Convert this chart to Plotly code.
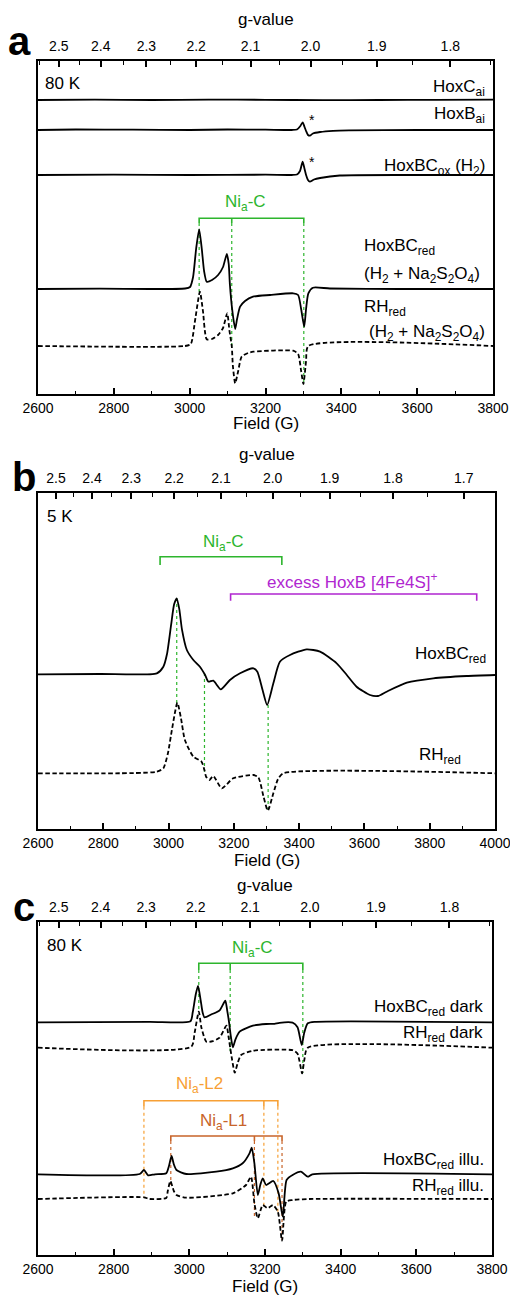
import plotly.graph_objects as go

MW_FREQ_GHZ = 9.29
G_CONST = 714.477  # field (G) = G_CONST * freq(GHz) / g

FONT = "Liberation Sans, Arial, sans-serif"
GREEN = "#2db52d"
PURPLE = "#b026d0"
ORANGE_L2 = "#f7a035"
ORANGE_L1 = "#c8642a"

# ---------------- Panel a (80 K) ----------------
a_hoxc_field = [2600, 2750, 2900, 3050, 3200, 3350, 3500, 3650, 3800]
a_hoxc_int = [0, 0.3, 0, 0.4, 0.2, -0.2, 0, 0.2, 0.3]
a_hoxc_offset = 294

a_hoxb_field = [2600, 2700, 2850, 3000, 3100, 3200, 3270, 3283, 3292, 3298, 3303, 3307, 3312, 3317, 3325, 3344, 3378, 3420, 3600, 3800]
a_hoxb_int = [0, 0.5, 0.3, 0, 0.5, 0.3, 0, 0.5, 4, 7.7, 3, -1, -5, -5.7, -3.5, -2, -0.8, -0.3, 0, 0]
a_hoxb_offset = 264

a_hoxbcox_field = [2600, 2800, 3000, 3200, 3270, 3283, 3291, 3298, 3303, 3307, 3312, 3317, 3328, 3344, 3396, 3600, 3800]
a_hoxbcox_int = [0, 0.3, 0, 0.3, 0, 0.5, 4, 13.3, 6, 0, -5, -6.7, -4.5, -3, -0.5, 0, 0]
a_hoxbcox_offset = 219

a_bcred_field = [2600, 2763, 2895, 2988, 3001, 3009, 3017, 3025, 3032, 3038, 3045, 3059, 3075, 3088, 3098, 3103, 3106, 3112, 3120, 3125, 3133, 3146, 3167, 3212, 3273, 3286, 3294, 3302, 3307, 3313, 3325, 3370, 3555, 3800]
a_bcred_int = [0, 0.3, 0, 0.5, 2, 12, 40, 59.7, 40, 18, 7.3, 9, 14, 22, 35, 25, 5, -20, -40, -30, -17.7, -12, -7.7, -6, -4.3, -6, -20, -37.7, -20, -4.3, 1.3, 0.5, 0, 0]
a_bcred_offset = 105

a_rhred_field = [2600, 2988, 3003, 3014, 3027, 3035, 3045, 3059, 3075, 3088, 3099, 3105, 3111, 3114, 3120, 3128, 3137, 3154, 3168, 3273, 3286, 3294, 3300, 3307, 3313, 3800]
a_rhred_int = [0, 0, 2, 25, 54.3, 35, 6.7, 7, 11, 18, 32.7, 15, 0, -20, -37.3, -25, -10.7, -7, -5.7, -4.7, -8, -25, -38, -15, 0, 0]
a_rhred_offset = 48

a_nic_fields = [3025, 3111, 3301]
a_nic_dot_ends = [100, 47, 10]

# ---------------- Panel b (5 K) ----------------
b_bcred_field = [2600, 2790, 2964, 2984, 2995, 3008, 3017, 3025, 3033, 3041, 3056, 3076, 3096, 3112, 3122, 3137, 3160, 3188, 3219, 3260, 3272, 3288, 3302, 3321, 3341, 3372, 3423, 3464, 3515, 3546, 3576, 3617, 3642, 3668, 3730, 3811, 3913, 4000]
b_bcred_int = [0, 0.3, 1, 7.6, 20, 50, 70, 76, 65, 45, 24.3, 14.3, 7.6, -0.7, -7.4, -6.4, -15, -5.7, 1, 6, 2.6, -15.7, -30.7, -9, 12.6, 19.3, 25, 22.6, 11, -0.7, -12.4, -20.7, -21.7, -17.4, -8.4, -4, -1.7, -0.7]
b_bcred_offset = 154.7

b_rhred_field = [2600, 2964, 2984, 2998, 3011, 3027, 3038, 3050, 3076, 3101, 3110, 3115, 3125, 3137, 3163, 3198, 3260, 3275, 3291, 3304, 3321, 3335, 3351, 4000]
b_rhred_int = [0, 1.6, 5, 20, 45, 70.6, 55, 33.3, 16.6, 11.6, 3, -3.4, -6.7, -2.7, -15, -5, -1.7, -4, -23.4, -37.4, -20, -6, 0, 0]
b_rhred_offset = 55.7

b_nic_fields = [3025, 3110, 3305]
b_nic_dot_tops = [231, 156, 124]
b_nic_dot_ends = [125.7, 57.3, 19]
b_nic_bracket = [2974, 3347]
b_fes_bracket = [3190, 3944]

# ---------------- Panel c (80 K, dark / illuminated) ----------------
c_bcdark_field = [2600, 2895, 3003, 3009, 3017, 3023, 3030, 3035, 3040, 3059, 3080, 3095, 3100, 3105, 3109, 3115, 3122, 3133, 3168, 3203, 3225, 3238, 3273, 3286, 3297, 3304, 3313, 3331, 3800]
c_bcdark_int = [0, 0.5, 1, 10, 28, 36.3, 22, 10, 5, 8, 12, 21.6, 12, 0, -12, -25, -17, -9.4, -3.4, -1.7, -1.5, -0.5, -0.4, -5, -22.7, -10, -1, 0.5, 0]
c_bcdark_offset = 232.7

c_rhdark_field = [2600, 3005, 3014, 3025, 3032, 3045, 3062, 3080, 3098, 3104, 3108, 3113, 3120, 3128, 3137, 3168, 3273, 3286, 3298, 3304, 3313, 3800]
c_rhdark_int = [0, 1, 15, 36, 20, 6, 6.5, 10, 22, 10, 0, -12, -25, -15, -7.3, -3, -2.5, -6, -25.6, -12, 0, 0]
c_rhdark_offset = 207.3

c_bcillu_field = [2600, 2869, 2880, 2891, 2909, 2939, 2946, 2953, 2959, 2966, 2992, 3071, 3115, 3141, 3159, 3165, 3172, 3181, 3188, 3194, 3203, 3222, 3236, 3247, 3257, 3273, 3295, 3313, 3325, 3800]
c_bcillu_int = [0, 0.3, 4.3, -1, 0, 1, 8, 18.3, 10, 4.3, 0.3, 2.6, 6, 11, 21, 26.6, 11, -20.7, -10, -4, -10.7, -6.7, -19, -42.4, -5.7, -0.7, 2.6, -2.4, 0, 0]
c_bcillu_offset = 80.7

c_rhillu_field = [2600, 2880, 2895, 2939, 2943, 2950, 2959, 2966, 2992, 3115, 3150, 3163, 3172, 3181, 3194, 3207, 3221, 3234, 3245, 3256, 3273, 3317, 3800]
c_rhillu_int = [0, 1.7, 0, 1, 8, 18, 8, 4, 1.3, 5.7, 14, 22.3, -4.3, -19.3, -6, -9.3, -6, -12.7, -41.7, -2.7, -1, 0, 0]
c_rhillu_offset = 56

c_nic_fields = [3025, 3108, 3300]
c_nic_dot_ends = [243, 203, 182]
c_l2_fields = [2880, 3197, 3234]
c_l2_dot_ends = [57, 48, 42]
c_l1_fields = [2951, 3172, 3245]
c_l1_dot_ends = [70, 38, 15]

g_ticks_ac = [2.5, 2.4, 2.3, 2.2, 2.1, 2.0, 1.9, 1.8]
g_minor_ac = [2.55, 2.45, 2.35, 2.25, 2.15, 2.05, 1.95, 1.85, 1.75]
g_ticks_b = [2.5, 2.4, 2.3, 2.2, 2.1, 2.0, 1.9, 1.8, 1.7]
g_minor_b = [2.55, 2.45, 2.35, 2.25, 2.15, 2.05, 1.95, 1.85, 1.75, 1.65]


def g_to_field(g):
    return G_CONST * MW_FREQ_GHZ / g


fig = go.Figure()


def spectrum(field, inten, offset, xa, ya, dashed=False):
    fig.add_trace(go.Scatter(
        x=field, y=[v + offset for v in inten], mode="lines",
        line=dict(color="black", width=1.8, dash="4.5px,2.5px" if dashed else "solid",
                  shape="spline", smoothing=0.6),
        xaxis=xa, yaxis=ya, showlegend=False, hoverinfo="skip"))


def bracket(fields, y_top, y_tick, color, xa, ya, middle=True):
    xs = [fields[0], fields[0], fields[-1], fields[-1]]
    ys = [y_tick, y_top, y_top, y_tick]
    if middle and len(fields) > 2:
        for f in fields[1:-1]:
            xs += [None, f, f]
            ys += [None, y_top, y_tick]
    fig.add_trace(go.Scatter(x=xs, y=ys, mode="lines", line=dict(color=color, width=1.6),
                             xaxis=xa, yaxis=ya, showlegend=False, hoverinfo="skip"))


def dots(fields, tops, ends, color, xa, ya):
    xs, ys = [], []
    for f, t, e in zip(fields, tops, ends):
        xs += [f, f, None]
        ys += [t, e, None]
    fig.add_trace(go.Scatter(x=xs, y=ys, mode="lines", line=dict(color=color, width=1.2, dash="dot"),
                             xaxis=xa, yaxis=ya, showlegend=False, hoverinfo="skip"))


# Panel a
spectrum(a_hoxc_field, a_hoxc_int, a_hoxc_offset, "x", "y")
spectrum(a_hoxb_field, a_hoxb_int, a_hoxb_offset, "x", "y")
spectrum(a_hoxbcox_field, a_hoxbcox_int, a_hoxbcox_offset, "x", "y")
dots(a_nic_fields, [171] * 3, a_nic_dot_ends, GREEN, "x", "y")
spectrum(a_bcred_field, a_bcred_int, a_bcred_offset, "x", "y")
spectrum(a_rhred_field, a_rhred_int, a_rhred_offset, "x", "y", dashed=True)
bracket(a_nic_fields, 175.7, 171, GREEN, "x", "y")

# Panel b
dots(b_nic_fields, b_nic_dot_tops, b_nic_dot_ends, GREEN, "x3", "y2")
spectrum(b_bcred_field, b_bcred_int, b_bcred_offset, "x3", "y2")
spectrum(b_rhred_field, b_rhred_int, b_rhred_offset, "x3", "y2", dashed=True)
bracket(b_nic_bracket, 272.3, 264, GREEN, "x3", "y2", middle=False)
bracket(b_fes_bracket, 235, 228.3, PURPLE, "x3", "y2", middle=False)

# Panel c
dots(c_nic_fields, [285] * 3, c_nic_dot_ends, GREEN, "x5", "y3")
dots(c_l2_fields, [148.3] * 3, c_l2_dot_ends, ORANGE_L2, "x5", "y3")
dots(c_l1_fields, [114] * 3, c_l1_dot_ends, ORANGE_L1, "x5", "y3")
spectrum(c_bcdark_field, c_bcdark_int, c_bcdark_offset, "x5", "y3")
spectrum(c_rhdark_field, c_rhdark_int, c_rhdark_offset, "x5", "y3", dashed=True)
spectrum(c_bcillu_field, c_bcillu_int, c_bcillu_offset, "x5", "y3")
spectrum(c_rhillu_field, c_rhillu_int, c_rhillu_offset, "x5", "y3", dashed=True)
bracket(c_nic_fields, 291.7, 285, GREEN, "x5", "y3")
bracket(c_l2_fields, 154.3, 148.3, ORANGE_L2, "x5", "y3")
bracket(c_l1_fields, 119, 114, ORANGE_L1, "x5", "y3")

# invisible traces for top axes
for xa, ya in [("x2", "y"), ("x4", "y2"), ("x6", "y3")]:
    fig.add_trace(go.Scatter(x=[None], y=[None], xaxis=xa, yaxis=ya, showlegend=False, hoverinfo="skip"))


def bottom_axis(dom, rng, anchor):
    return dict(domain=dom, range=rng, anchor=anchor, showline=True, mirror=True, automargin=False,
                linecolor="black", linewidth=1.5, ticks="inside", ticklen=6, tickwidth=1.5,
                tickcolor="black", dtick=200, tick0=2600, showgrid=False, zeroline=False,
                ticklabeloverflow="allow",
                tickfont=dict(family=FONT, size=14, color="black"),
                minor=dict(ticks="inside", dtick=100, ticklen=3.5, tickwidth=1.2, tickcolor="black"))


def top_axis(rng, overlay, anchor, gt, gm):
    return dict(range=rng, overlaying=overlay, anchor=anchor, side="top", showline=False, automargin=False,
                ticks="inside", ticklen=6, tickwidth=1.5, tickcolor="black", showgrid=False,
                zeroline=False, tickmode="array", ticklabeloverflow="allow",
                tickvals=[g_to_field(g) for g in gt], ticktext=[f"{g:.1f}" for g in gt],
                tickfont=dict(family=FONT, size=14, color="black"), ticklabelstandoff=6,
                minor=dict(tickmode="array", tickvals=[g_to_field(g) for g in gm],
                           ticks="inside", ticklen=3.5, tickwidth=1.2, tickcolor="black"))


def y_axis(dom, rng, anchor):
    return dict(domain=dom, range=rng, anchor=anchor, showline=True, mirror=True, automargin=False,
                linecolor="black", linewidth=1.5, ticks="", showticklabels=False,
                showgrid=False, zeroline=False)


H = 1295.0
W = 510.0
dom_a_x = [38 / W, 493 / W]
dom_b_x = [38 / W, 495 / W]
dom_c_x = [38 / W, 492 / W]
dom_a_y = [1 - 394 / H, 1 - 61 / H]
dom_b_y = [1 - 829 / H, 1 - 493 / H]
dom_c_y = [1 - 1255 / H, 1 - 922 / H]

fig.update_layout(
    width=510, height=1295, margin=dict(l=0, r=0, t=0, b=0, autoexpand=False),
    paper_bgcolor="white", plot_bgcolor="white", showlegend=False,
    xaxis=bottom_axis(dom_a_x, [2600, 3800], "y"),
    xaxis2=top_axis([2600, 3800], "x", "y", g_ticks_ac, g_minor_ac),
    yaxis=y_axis(dom_a_y, [0, 333], "x"),
    xaxis3=bottom_axis(dom_b_x, [2600, 4000], "y2"),
    xaxis4=top_axis([2600, 4000], "x3", "y2", g_ticks_b, g_minor_b),
    yaxis2=y_axis(dom_b_y, [0, 336], "x3"),
    xaxis5=bottom_axis(dom_c_x, [2600, 3800], "y3"),
    xaxis6=top_axis([2600, 3800], "x5", "y3", g_ticks_ac, g_minor_ac),
    yaxis3=y_axis(dom_c_y, [0, 333], "x5"),
)

ann = []


def text(t, x, y, xa, ya, anchor="left", color="black", size=17):
    ann.append(dict(text=t, x=x, y=y, xref=xa, yref=ya, xanchor=anchor, yanchor="middle",
                    showarrow=False, font=dict(family=FONT, size=size, color=color)))


# axis titles
for xa, ya, top_shift, bot_shift in [("x", "y", 41, -30), ("x3", "y2", 38, -31), ("x5", "y3", 37, -31)]:
    ann.append(dict(text="g-value", x=0.5, y=1, xref=xa + " domain", yref=ya + " domain",
                    yshift=top_shift, showarrow=False, xanchor="center", yanchor="middle",
                    font=dict(family=FONT, size=17, color="black")))
    ann.append(dict(text="Field (G)", x=0.5, y=0, xref=xa + " domain", yref=ya + " domain",
                    yshift=bot_shift, showarrow=False, xanchor="center", yanchor="middle",
                    font=dict(family=FONT, size=17, color="black")))

# panel letters
for letter, px, py in [("a", 19, 41), ("b", 24, 477), ("c", 24, 907)]:
    ann.append(dict(text=f"<b>{letter}</b>", x=px / W, y=1 - py / H, xref="paper", yref="paper",
                    xanchor="center", yanchor="middle", showarrow=False,
                    font=dict(family=FONT, size=40, color="black")))

# panel a texts
text("80 K", 2613, 311, "x", "y")
text("HoxC<sub>ai</sub>", 3784, 306, "x", "y", anchor="right")
text("HoxB<sub>ai</sub>", 3784, 279, "x", "y", anchor="right")
text("HoxBC<sub>ox</sub> (H<sub>2</sub>)", 3784, 227, "x", "y", anchor="right")
text("*", 3323, 274, "x", "y", anchor="center", size=14)
text("*", 3323, 232, "x", "y", anchor="center", size=14)
text("Ni<sub>a</sub>-C", 3146, 191, "x", "y", anchor="center", color=GREEN)
text("HoxBC<sub>red</sub>", 3454, 147, "x", "y")
text("(H<sub>2</sub> + Na<sub>2</sub>S<sub>2</sub>O<sub>4</sub>)", 3454, 119, "x", "y")
text("RH<sub>red</sub>", 3454, 85.7, "x", "y")
text("(H<sub>2</sub> + Na<sub>2</sub>S<sub>2</sub>O<sub>4</sub>)", 3467, 61, "x", "y")

# panel b texts
text("5 K", 2621, 313, "x3", "y2")
text("Ni<sub>a</sub>-C", 3167, 286, "x3", "y2", anchor="center", color=GREEN)
text("excess HoxB [4Fe4S]<sup>+</sup>", 3561, 248, "x3", "y2", anchor="center", color=PURPLE)
text("HoxBC<sub>red</sub>", 3978, 174, "x3", "y2", anchor="right")
text("RH<sub>red</sub>", 3760, 72.6, "x3", "y2")

# panel c texts
text("80 K", 2618, 310, "x5", "y3")
text("Ni<sub>a</sub>-C", 3168, 305.7, "x5", "y3", anchor="center", color=GREEN)
text("HoxBC<sub>red</sub> dark", 3781, 246.7, "x5", "y3", anchor="right")
text("RH<sub>red</sub> dark", 3781, 221, "x5", "y3", anchor="right")
text("Ni<sub>a</sub>-L2", 3027, 170, "x5", "y3", anchor="center", color=ORANGE_L2)
text("Ni<sub>a</sub>-L1", 3089, 133.3, "x5", "y3", anchor="center", color=ORANGE_L1)
text("HoxBC<sub>red</sub> illu.", 3783, 94.3, "x5", "y3", anchor="right")
text("RH<sub>red</sub> illu.", 3783, 68.3, "x5", "y3", anchor="right")

fig.update_layout(annotations=ann)
fig.write_html("out.html", config={"displayModeBar": False},
               post_script="document.body.style.margin='0px';document.body.style.overflow='hidden';")
